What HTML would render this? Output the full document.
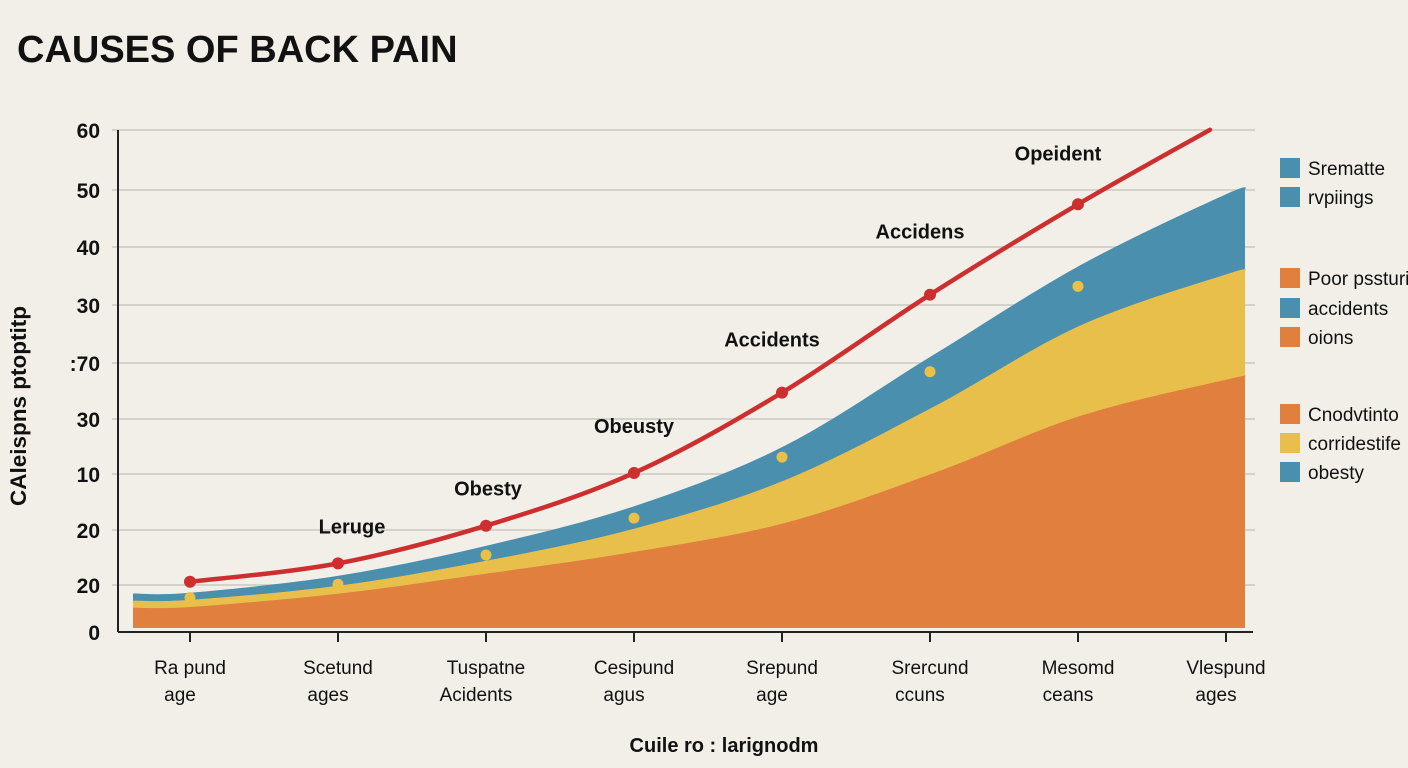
<!DOCTYPE html>
<html><head><meta charset="utf-8"><style>
html,body{margin:0;padding:0;background:#f1efe7;}
svg{display:block;font-family:"Liberation Sans",sans-serif;}
</style></head><body>
<svg width="1408" height="768" viewBox="0 0 1408 768">
<rect width="1408" height="768" fill="#f1efe7"/>
<text x="17" y="62" font-size="38" font-weight="bold" fill="#111" style="letter-spacing:0px">CAUSES OF BACK PAIN</text>
<g id="grid"></g><g id="areas"></g><g id="axes"></g><g id="line"></g><g id="labels"></g>
<text transform="translate(26,406) rotate(-90)" text-anchor="middle" font-size="22.5" font-weight="bold" fill="#111">CAleispns ptoptitp</text>
<text x="724" y="752" text-anchor="middle" font-size="20" font-weight="bold" fill="#111">Cuile ro : larignodm</text>
<g id="legend"></g>
</svg>
<script>
const categories=[["Ra pund","age"],["Scetund","ages"],["Tuspatne","Acidents"],["Cesipund","agus"],["Srepund","age"],["Srercund","ccuns"],["Mesomd","ceans"],["Vlespund","ages"]];
const yTickLabels=["0","20","20","10","30",":70","30","40","50","60"];
const orangeVals=[2.5,4.1,6.5,9.1,12.5,18.4,25.3,29.7];
const yellowVals=[0.85,0.95,1.55,2.8,5.1,7.9,10.8,12.6];
const blueVals=[0.85,1.2,1.8,2.7,4.1,6.2,7.2,9.6];
const redVals=[6.0,8.2,12.7,19.0,28.6,40.3,51.1,60];
const dotVals=[4.1,5.7,9.2,13.6,20.9,31.1,41.3];
const annotations=["Leruge","Obesty","Obeusty","Accidents","Accidens","Opeident"];
const annotationIdx=[1,2,3,4,5,6];
const legendItems=[["Srematte","#4a8fae"],["rvpiings","#4a8fae"],["Poor pssturi","#e07f3e"],["accidents","#4a8fae"],["oions","#e07f3e"],["Cnodvtinto","#e07f3e"],["corridestife","#e9bf4b"],["obesty","#4a8fae"]];

const NS="http://www.w3.org/2000/svg";
function x(i){return 192+148*i;}
function y(v){return 632-v*8.37;}
function mk(p,t,a){const e=document.createElementNS(NS,t);for(const k in a)e.setAttribute(k,a[k]);p.appendChild(e);return e;}
function smooth(pts){let d="M"+pts[0][0]+","+pts[0][1];for(let i=0;i<pts.length-1;i++){const p0=pts[i-1]||pts[i],p1=pts[i],p2=pts[i+1],p3=pts[i+2]||p2;d+=" C"+(p1[0]+(p2[0]-p0[0])/6)+","+(p1[1]+(p2[1]-p0[1])/6)+" "+(p2[0]-(p3[0]-p1[0])/6)+","+(p2[1]-(p3[1]-p1[1])/6)+" "+p2[0]+","+p2[1];}return d;}

const grid=document.getElementById("grid");
const tickYs=[632,585,530,474,419,363,305,247,190,130];
yTickLabels.forEach((l,k)=>{
 const yy=tickYs[k];
 if(k>0){const g=mk(grid,"line",{x1:112,x2:1255,y1:yy,y2:yy,stroke:"#c9c8c2","stroke-width":1.5});
 
 }
 const t=mk(grid,"text",{x:100,y:yy+8,"text-anchor":"end","font-size":21,"font-weight":"bold",fill:"#111"});t.textContent=l;
 
 
});

const areas=document.getElementById("areas");
const base=0.5;
function stackTop(arrs){return orangeVals.map((_,i)=>arrs.reduce((s,a)=>s+a[i],base));}
const layers=[[[orangeVals,yellowVals,blueVals],"#4a8fae","area-blue"],[[orangeVals,yellowVals],"#e9bf4b","area-yellow"],[[orangeVals],"#e07f3e","area-orange"]];
layers.forEach(([arrs,col,name])=>{
 const tops=stackTop(arrs);
 const pts=tops.map((v,i)=>[x(i),y(v)]);
 pts.unshift([133,y(tops[0]-0.1)]);
 pts.push([1245,y(tops[tops.length-1]+0.3)]);
 const d=smooth(pts)+" L1245,"+y(base)+" L133,"+y(base)+" Z";
 const p=mk(areas,"path",{d:d,fill:col});
 
 
});

const axes=document.getElementById("axes");
mk(axes,"line",{x1:118,x2:118,y1:130,y2:632,stroke:"#222","stroke-width":2});
mk(axes,"line",{x1:118,x2:1253,y1:632,y2:632,stroke:"#222","stroke-width":2});
categories.forEach((c,i)=>{
 mk(axes,"line",{x1:x(i)-2,x2:x(i)-2,y1:632,y2:642,stroke:"#222","stroke-width":2});
 const t=mk(axes,"text",{x:x(i)-2,y:674,"text-anchor":"middle","font-size":19,fill:"#111"});
 
 
 const a=mk(t,"tspan",{x:x(i)-2});a.textContent=c[0];
 const b=mk(t,"tspan",{x:x(i)-12,dy:27});b.textContent=c[1];
});

const line=document.getElementById("line");
const rpts=redVals.map((v,i)=>[i==7?1210:x(i)-2,y(v)]);
const rl=mk(line,"path",{d:smooth(rpts),fill:"none",stroke:"#cd2f2f","stroke-width":4.5,"stroke-linecap":"round"});


redVals.slice(0,7).forEach((v,i)=>{
 const c=mk(line,"circle",{cx:x(i)-2,cy:y(v),r:6,fill:"#cd2f2f"});
 
 
});
dotVals.forEach((v,i)=>{
 const c=mk(line,"circle",{cx:x(i)-2,cy:y(v),r:5.5,fill:"#ebc145"});
 
 
});

const labels=document.getElementById("labels");
const annDx=[12,0,-2,-12,-12,-22];
const annDy=[-30,-30,-40,-46,-56,-44];
annotations.forEach((a,k)=>{
 const i=annotationIdx[k];
 const t=mk(labels,"text",{x:x(i)+annDx[k],y:y(redVals[i])+annDy[k],"text-anchor":"middle","font-size":20,"font-weight":"bold",fill:"#111"});
 t.textContent=a;
 
 
});

const legend=document.getElementById("legend");
const legYs=[168,197,278,308,337,414,443,472];
legendItems.forEach((it,k)=>{
 const r=mk(legend,"rect",{x:1280,y:legYs[k]-10,width:20,height:20,fill:it[1]});
 
 
 const t=mk(legend,"text",{x:1308,y:legYs[k]+7,"font-size":19,fill:"#111"});t.textContent=it[0];
 
 
});
</script>
</body></html>
